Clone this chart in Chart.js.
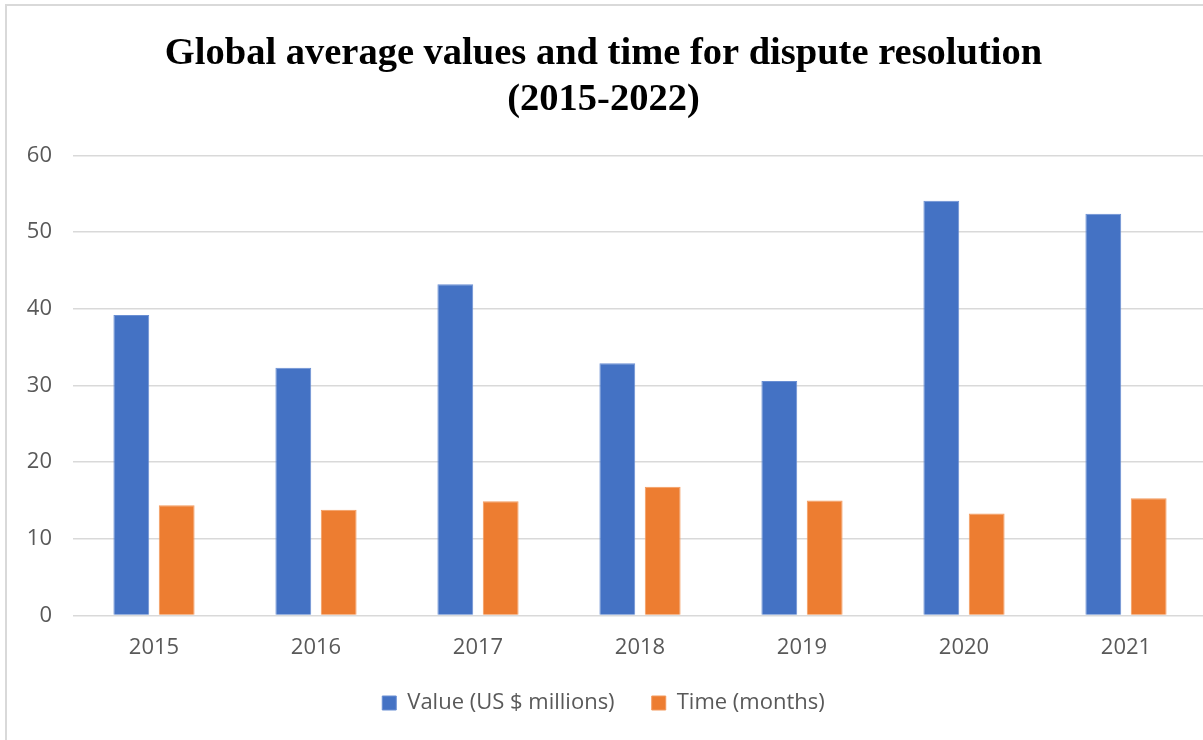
<!DOCTYPE html>
<html>
<head>
<meta charset="utf-8">
<script src="https://cdn.jsdelivr.net/npm/chart.js@4"></script>
<style>
  html, body { margin: 0; padding: 0; background: #fff; overflow: hidden; }
  #frame { position: absolute; left: 5px; top: 4px; width: 1220px; height: 760px;
           border-left: 2px solid #d9d9d9; border-top: 2px solid #d9d9d9; }
  #wrap { position: absolute; left: 0; top: 0; width: 1210px; height: 740px; }
</style>
</head>
<body>
<div id="frame"></div>
<div id="wrap"><canvas id="c"></canvas></div>
<script>
const years = ['2015', '2016', '2017', '2018', '2019', '2020', '2021'];
const valueMillions = [39.2, 32.3, 43.2, 32.9, 30.6, 54.1, 52.4];
const timeMonths = [14.4, 13.8, 14.9, 16.8, 15.0, 13.3, 15.3];
const yTicks = [0, 10, 20, 30, 40, 50, 60];

const grey = '#595959';
const tickFont = { family: 'Open Sans', size: 22 };

new Chart(document.getElementById('c'), {
    type: 'bar',
    data: {
        labels: years,
        datasets: [
            // trailing spaces widen the gap between the two legend entries
            { label: 'Value (US $ millions)   ', data: valueMillions, backgroundColor: '#4472C4',
              borderColor: '#6a8fd3', borderWidth: 1, categoryPercentage: 0.56, barPercentage: 0.79 },
            { label: 'Time (months)', data: timeMonths, backgroundColor: '#ED7D31',
              borderColor: '#f39a5e', borderWidth: 1, categoryPercentage: 0.56, barPercentage: 0.79 }
        ]
    },
    options: {
        responsive: true, maintainAspectRatio: false, animation: false,
        layout: { padding: { left: 0, right: 3, top: 0, bottom: 16 } },
        scales: {
            x: {
                grid: { display: false },
                border: { display: false },
                ticks: { color: grey, font: tickFont, padding: 11 }
            },
            y: {
                min: 0, max: 60,
                afterBuildTicks: s => { s.ticks = yTicks.map(v => ({ value: v })); },
                afterFit: s => { s.width = 73; },
                grid: { color: '#d9d9d9', lineWidth: 1.5, drawTicks: false },
                border: { display: false },
                ticks: { color: grey, font: tickFont, padding: 21 }
            }
        },
        plugins: {
            title: {
                display: true,
                text: ['Global average values and time for dispute resolution', '(2015-2022)'],
                color: '#000',
                font: { family: 'Liberation Serif', size: 38.5, weight: 'bold', lineHeight: 1.2 },
                padding: { top: 31, bottom: 32 }
            },
            legend: {
                position: 'bottom',
                labels: { color: grey, font: { family: 'Open Sans', size: 22 },
                          boxWidth: 14, boxHeight: 14, padding: 20 }
            },
            tooltip: { enabled: false }
        }
    }
});
</script>
</body>
</html>
